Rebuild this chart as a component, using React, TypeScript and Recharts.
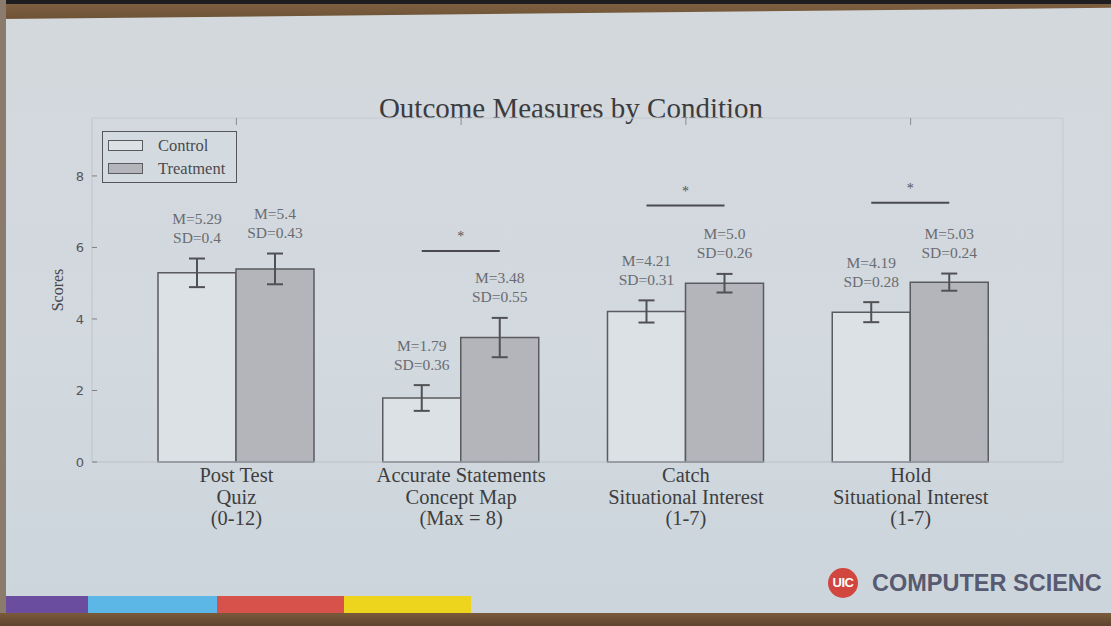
import { BarChart, Bar, XAxis, YAxis, ErrorBar, LabelList, Legend } from 'recharts';

// categories (tick labels, one line per entry)
const categoryLines = [
  ['Post Test', 'Quiz', '(0-12)'],
  ['Accurate Statements', 'Concept Map', '(Max = 8)'],
  ['Catch', 'Situational Interest', '(1-7)'],
  ['Hold', 'Situational Interest', '(1-7)'],
];

const controlMeans = [5.29, 1.79, 4.21, 4.19];
const treatmentMeans = [5.4, 3.48, 5.0, 5.03];
const controlSds = [0.4, 0.36, 0.31, 0.28];
const treatmentSds = [0.43, 0.55, 0.26, 0.24];

const controlText = [
  ['M=5.29', 'SD=0.4'],
  ['M=1.79', 'SD=0.36'],
  ['M=4.21', 'SD=0.31'],
  ['M=4.19', 'SD=0.28'],
];
const treatmentText = [
  ['M=5.4', 'SD=0.43'],
  ['M=3.48', 'SD=0.55'],
  ['M=5.0', 'SD=0.26'],
  ['M=5.03', 'SD=0.24'],
];

// height of the significance bracket (score units), null = none
const sigLevels = [null, 5.9, 7.17, 7.25];

const yTicks = [0, 2, 4, 6, 8];
const seriesNames = ['Control', 'Treatment'];

const data = categoryLines.map((lines, i) => ({
  name: lines.join(' '),
  control: controlMeans[i],
  treatment: treatmentMeans[i],
  controlSd: controlSds[i],
  treatmentSd: treatmentSds[i],
}));

const serif = '"Liberation Serif", "DejaVu Serif", serif';
const CONTROL_FILL = '#dce1e6';
const TREAT_FILL = '#b3b5ba';
const EDGE = '#5a5b5f';

const CategoryTick = (props: any) => {
  const { x, y, payload } = props;
  const lines = categoryLines[payload.index] || [];
  return (
    <text x={x} y={y} textAnchor="middle" fill="#3e3e40" fontFamily={serif} fontSize={20.5}>
      {lines.map((l, i) => (
        <tspan key={i} x={x} dy={i === 0 ? 12 : 21.5}>
          {l}
        </tspan>
      ))}
    </text>
  );
};

const Empty = () => <g />;

const makeStatLabel = (texts: string[][], sds: number[], withSig: boolean) => (props: any) => {
  const { x, y, width, height, value, index } = props;
  const perUnit = height / value;
  const cx = x + width / 2;
  const errTop = y - sds[index] * perUnit;
  const t = texts[index];
  const sig = withSig ? sigLevels[index] : null;
  const base = y + height;
  return (
    <g>
      <text x={cx} y={errTop - 40} dy="0.35em" textAnchor="middle" fill="#6a6b70" fontFamily={serif} fontSize={15.5}>
        {t[0]}
      </text>
      <text x={cx} y={errTop - 21} dy="0.35em" textAnchor="middle" fill="#6a6b70" fontFamily={serif} fontSize={15.5}>
        {t[1]}
      </text>
      {sig != null && (
        <g>
          <line x1={x - width / 2} x2={cx} y1={base - sig * perUnit} y2={base - sig * perUnit} stroke="#4a4a4e" strokeWidth={2} />
          <text x={x} y={base - sig * perUnit - 15} dy="0.35em" textAnchor="middle" fill="#555" fontFamily={serif} fontSize={14}>
            *
          </text>
        </g>
      )}
    </g>
  );
};

const LegendBox = () => (
  <div
    style={{
      width: 135,
      height: 52,
      border: '1.5px solid #55565a',
      boxSizing: 'border-box',
      position: 'relative',
      fontFamily: serif,
      fontSize: 16.5,
      color: '#4a4a4e',
      background: '#d4dbe0',
    }}
  >
    {seriesNames.map((n, i) => (
      <div key={n} style={{ position: 'absolute', left: 5, top: 7 + i * 23, height: 13, display: 'flex', alignItems: 'center' }}>
        <div
          style={{
            width: 35,
            height: 11,
            border: `1.5px solid ${EDGE}`,
            boxSizing: 'border-box',
            background: i === 0 ? CONTROL_FILL : TREAT_FILL,
          }}
        />
        <span style={{ marginLeft: 15, lineHeight: '13px' }}>{n}</span>
      </div>
    ))}
  </div>
);

export default function App() {
  return (
    <div
      style={{
        position: 'absolute',
        left: 0,
        top: 0,
        width: 1111,
        height: 626,
        overflow: 'hidden',
        background: 'linear-gradient(180deg, #d3d8dc 0%, #d2d9df 55%, #ccd5dc 100%)',
      }}
    >
      {/* room / frame edges */}
      <div style={{ position: 'absolute', left: 0, top: 0, width: 1111, height: 5, background: '#1e1d1f' }} />
      <div
        style={{
          position: 'absolute',
          left: 0,
          top: 4,
          width: 1111,
          height: 15,
          background: 'linear-gradient(180deg, #7e6040, #6d5236)',
          clipPath: 'polygon(0 0, 100% 0, 100% 25%, 0 100%)',
        }}
      />
      <div style={{ position: 'absolute', left: 0, top: 0, width: 6, height: 626, background: '#8a7b6c' }} />

      <div
        style={{
          position: 'absolute',
          left: 321,
          top: 94,
          width: 500,
          textAlign: 'center',
          fontFamily: serif,
          fontSize: 29,
          lineHeight: '29px',
          color: '#3c3c3f',
        }}
      >
        Outcome Measures by Condition
      </div>

      <div style={{ position: 'absolute', left: 0, top: 0 }}>
        <BarChart
          width={1111}
          height={626}
          data={data}
          margin={{ top: 108, right: 38, left: 52, bottom: 94 }}
          barGap={0}
          barSize={78}
        >
          <XAxis
            dataKey="name"
            height={70}
            padding={{ left: 32, right: 40 }}
            tickLine={false}
            tick={<CategoryTick />}
            interval={0}
            axisLine={{ stroke: '#b9c1c7' }}
          />
          <XAxis
            xAxisId="top"
            orientation="top"
            dataKey="name"
            height={10}
            padding={{ left: 32, right: 40 }}
            tick={<Empty />}
            tickSize={-7}
            tickLine={{ stroke: '#8a8c90' }}
            axisLine={{ stroke: '#c3cad0' }}
            interval={0}
          />
          <YAxis
            domain={[0, 9.62]}
            ticks={yTicks}
            width={40}
            tickSize={-5}
            tickMargin={13}
            tick={{ fill: '#55565a', fontSize: 13, fontFamily: '"DejaVu Sans", sans-serif' }}
            tickLine={{ stroke: '#7d7f83' }}
            axisLine={{ stroke: '#bdc5cb' }}
            label={{
              value: 'Scores',
              angle: -90,
              position: 'insideLeft',
              offset: 5,
              style: { textAnchor: 'middle', fill: '#45464a', fontFamily: serif, fontSize: 16 },
            }}
          />
          <YAxis
            yAxisId="right"
            orientation="right"
            domain={[0, 9.62]}
            ticks={yTicks}
            width={10}
            tickSize={-6}
            tick={<Empty />}
            tickLine={{ stroke: '#9a9ca0' }}
            axisLine={{ stroke: '#c3cad0' }}
          />
          <Legend
            layout="vertical"
            align="center"
            verticalAlign="middle"
            wrapperStyle={{ left: 102, top: 131, width: 135 }}
            content={() => <LegendBox />}
          />
          <Bar
            dataKey="control"
            name={seriesNames[0]}
            fill={CONTROL_FILL}
            stroke={EDGE}
            strokeWidth={1.5}
            isAnimationActive={false}
          >
            <ErrorBar dataKey="controlSd" width={8} stroke="#505155" strokeWidth={2} />
            <LabelList dataKey="control" content={makeStatLabel(controlText, controlSds, false)} />
          </Bar>
          <Bar
            dataKey="treatment"
            name={seriesNames[1]}
            fill={TREAT_FILL}
            stroke={EDGE}
            strokeWidth={1.5}
            isAnimationActive={false}
          >
            <ErrorBar dataKey="treatmentSd" width={8} stroke="#505155" strokeWidth={2} />
            <LabelList dataKey="treatment" content={makeStatLabel(treatmentText, treatmentSds, true)} />
          </Bar>
        </BarChart>
      </div>

      {/* slide footer */}
      {[
        ['#6a4d9e', 6, 82],
        ['#5cb6e6', 88, 129],
        ['#d8524c', 217, 127],
        ['#ecd51c', 344, 127],
      ].map(([c, l, w]) => (
        <div key={c as string} style={{ position: 'absolute', left: l as number, top: 596, width: w as number, height: 18, background: c as string }} />
      ))}
      <div style={{ position: 'absolute', left: 0, top: 613, width: 1111, height: 13, background: 'linear-gradient(180deg, #7a5a3a, #5e4430)' }} />
      <div
        style={{
          position: 'absolute',
          left: 828,
          top: 568,
          width: 30,
          height: 30,
          borderRadius: '50%',
          background: '#d1473f',
          color: '#fff',
          fontFamily: '"Liberation Sans", Arial, sans-serif',
          fontWeight: 700,
          fontSize: 13,
          lineHeight: '30px',
          textAlign: 'center',
          letterSpacing: -0.5,
        }}
      >
        UIC
      </div>
      <div
        style={{
          position: 'absolute',
          left: 872,
          top: 570,
          whiteSpace: 'nowrap',
          fontFamily: '"Liberation Sans", Arial, sans-serif',
          fontWeight: 700,
          fontSize: 23.5,
          lineHeight: '26px',
          color: '#575a70',
        }}
      >
        COMPUTER SCIENC
      </div>
    </div>
  );
}
